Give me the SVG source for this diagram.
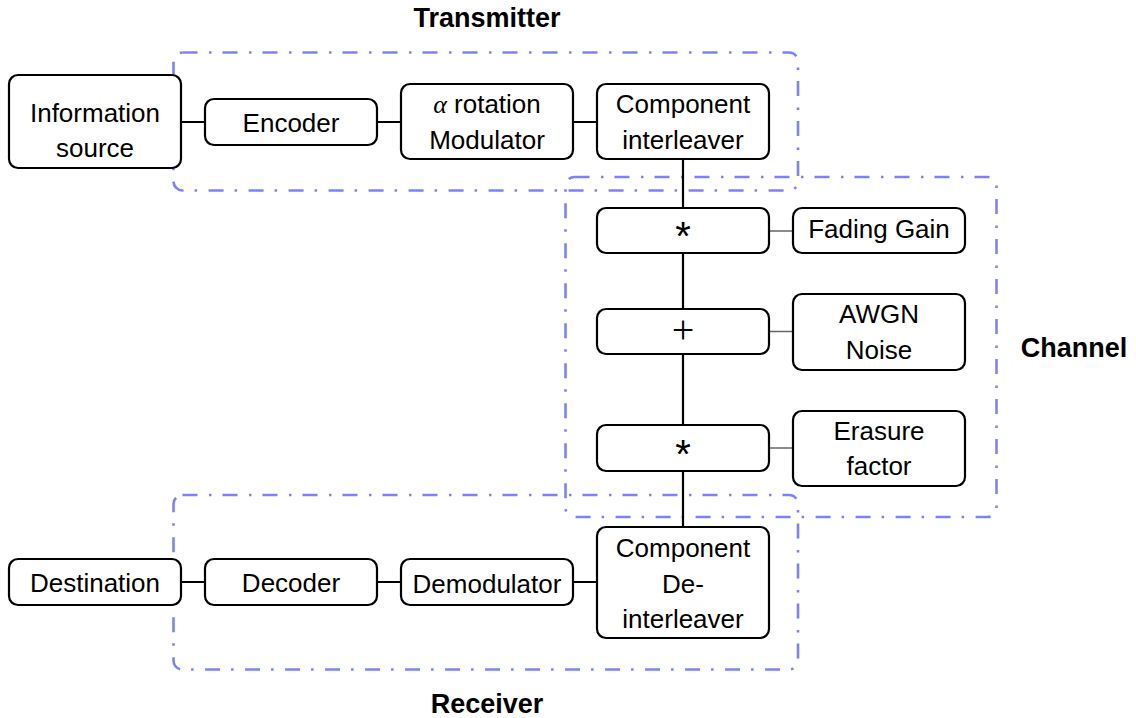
<svg xmlns="http://www.w3.org/2000/svg" width="1136" height="718" viewBox="0 0 1136 718">
<style>
.box{fill:#fff;stroke:#000;stroke-width:2.2}
.grp{fill:none;stroke:#8080ff;stroke-width:2.6;stroke-dasharray:15 11.5 2.5 11}
.t{font-family:"Liberation Sans",Arial,sans-serif;font-size:26px;fill:#000;text-anchor:middle}
.ast{font-family:"Liberation Sans",Arial,sans-serif;font-size:40px;fill:#000;text-anchor:middle}
.plus{font-family:"Liberation Serif","Times New Roman",serif;font-size:40px;fill:#000;text-anchor:middle}
.lbl{font-family:"Liberation Sans",Arial,sans-serif;font-size:27px;font-weight:bold;fill:#000;text-anchor:middle}
.c{stroke:#000;stroke-width:2.2;fill:none}
.g{stroke:#666;stroke-width:1.4;fill:none}
</style>
<rect width="1136" height="718" fill="#fff"/>
<g id="groups">
<rect class="grp" x="173.5" y="52.5" width="624.5" height="138" rx="9"/>
<rect class="grp" x="565.5" y="177" width="431" height="340" rx="9"/>
<rect class="grp" x="173.5" y="495" width="624.5" height="174.5" rx="9"/>
</g>
<g id="connectors">
<path class="c" d="M181 122H205M377 122H401M573 122H597"/>
<path class="c" d="M683 159V208M683 253V309M683 354V425M683 471V527"/>
<path class="c" d="M181 582H205M377 582H401M573 582H597"/>
<path class="g" d="M769 231H793M769 331.5H793M769 448H793"/>
</g>
<g id="info"><rect class="box" x="9" y="75" width="172" height="93" rx="9"/><text class="t" x="95" y="122">Information</text><text class="t" x="95" y="157">source</text></g>
<g id="encoder"><rect class="box" x="205" y="99" width="172" height="46" rx="9"/><text class="t" x="291" y="132">Encoder</text></g>
<g id="modulator"><rect class="box" x="401" y="84" width="172" height="75" rx="9"/><text class="t" x="487" y="113"><tspan style="font-family:'Liberation Serif',serif;font-style:italic">α</tspan> rotation</text><text class="t" x="487" y="149">Modulator</text></g>
<g id="interleaver"><rect class="box" x="597" y="84" width="172" height="75" rx="9"/><text class="t" x="683" y="113">Component</text><text class="t" x="683" y="149">interleaver</text></g>
<g id="mult1"><rect class="box" x="597" y="208" width="172" height="45" rx="9"/><text class="ast" x="683" y="250">*</text></g>
<g id="fading"><rect class="box" x="793" y="208" width="172" height="45" rx="9"/><text class="t" x="879" y="238">Fading Gain</text></g>
<g id="add"><rect class="box" x="597" y="309" width="172" height="45" rx="9"/><text class="plus" x="683" y="343">+</text></g>
<g id="awgn"><rect class="box" x="793" y="294" width="172" height="76" rx="9"/><text class="t" x="879" y="323">AWGN</text><text class="t" x="879" y="359">Noise</text></g>
<g id="mult2"><rect class="box" x="597" y="425" width="172" height="46" rx="9"/><text class="ast" x="683" y="468">*</text></g>
<g id="erasure"><rect class="box" x="793" y="411" width="172" height="75" rx="9"/><text class="t" x="879" y="440">Erasure</text><text class="t" x="879" y="475">factor</text></g>
<g id="deinterleaver"><rect class="box" x="597" y="527" width="172" height="111" rx="9"/><text class="t" x="683" y="557">Component</text><text class="t" x="683" y="593">De-</text><text class="t" x="683" y="628">interleaver</text></g>
<g id="demodulator"><rect class="box" x="401" y="559" width="172" height="46" rx="9"/><text class="t" x="487" y="593">Demodulator</text></g>
<g id="decoder"><rect class="box" x="205" y="559" width="172" height="46" rx="9"/><text class="t" x="291" y="592">Decoder</text></g>
<g id="destination"><rect class="box" x="9" y="559" width="172" height="46" rx="9"/><text class="t" x="95" y="592">Destination</text></g>
<g id="labels">
<text class="lbl" x="487" y="27">Transmitter</text>
<text class="lbl" x="1074" y="357">Channel</text>
<text class="lbl" x="487" y="713">Receiver</text>
</g>
</svg>
